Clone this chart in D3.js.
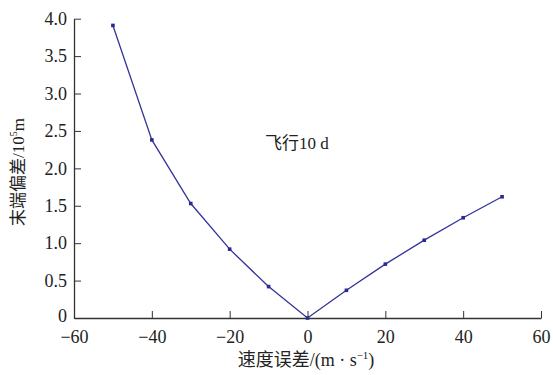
<!DOCTYPE html>
<html>
<head>
<meta charset="utf-8">
<script src="https://cdn.jsdelivr.net/npm/d3@7"></script>
<style>
body { margin: 0; background: #fff; }
text { font-family: "Liberation Serif", "Noto Sans CJK SC", serif; }
</style>
</head>
<body>
<div id="chart"></div>
<script>
var w = 553,
    h = 375;

// velocity error (m/s) and end deviation (10^5 m)
var speedErr = [-50, -40, -30, -20, -10, 0, 10, 20, 30, 40, 50];
var deviation = [3.91, 2.38, 1.53, 0.92, 0.42, 0, 0.37, 0.72, 1.04, 1.34, 1.62];
var xTicks = [-60, -40, -20, 0, 20, 40, 60];
var yTicks = [0, 0.5, 1.0, 1.5, 2.0, 2.5, 3.0, 3.5, 4.0];

var svg = d3.select("#chart")
  .append("svg")
  .attr("width", w)
  .attr("height", h);

var x = d3.scaleLinear().domain([-60, 60]).range([74, 541]);
var y = d3.scaleLinear().domain([0, 4]).range([318, 18.7]);

var axisColor = "#333";

// x axis, ticks point inward (up)
var xAxis = svg.append("g")
  .attr("transform", "translate(0," + y(0) + ")")
  .call(d3.axisBottom(x).tickValues(xTicks).tickSizeInner(-7).tickSizeOuter(0)
    .tickFormat(function(d) { return d < 0 ? "\u2212" + Math.abs(d) : d; }));
xAxis.select(".domain").attr("stroke", axisColor).attr("stroke-width", 1.3);
xAxis.selectAll(".tick line").attr("stroke", axisColor);
xAxis.selectAll(".tick text")
  .attr("y", 12)
  .attr("font-size", "18px")
  .attr("fill", "#222");

// y axis, ticks point inward (right)
var yAxis = svg.append("g")
  .attr("transform", "translate(" + x(-60) + ",0)")
  .call(d3.axisLeft(y).tickValues(yTicks).tickSizeInner(-7).tickSizeOuter(0)
    .tickFormat(function(d) { return d === 0 ? "0" : d3.format(".1f")(d); }));
yAxis.select(".domain").attr("stroke", axisColor).attr("stroke-width", 1.3);
yAxis.selectAll(".tick line").attr("stroke", axisColor);
yAxis.selectAll(".tick text")
  .attr("x", -7)
  .attr("font-size", "18px")
  .attr("fill", "#222");
// nudge the "0" label up a bit so it clears the x tick labels
yAxis.selectAll(".tick text").filter(function(d) { return d === 0; })
  .attr("dy", "0.2em");

// line
var pts = speedErr.map(function(v, i) { return [v, deviation[i]]; });
var line = d3.line()
  .x(function(d) { return x(d[0]); })
  .y(function(d) { return y(d[1]); });

svg.append("path")
  .datum(pts)
  .attr("d", line)
  .attr("fill", "none")
  .attr("stroke", "#33339a")
  .attr("stroke-width", 1.3);

svg.selectAll(".pt")
  .data(pts)
  .enter()
  .append("rect")
  .attr("class", "pt")
  .attr("x", function(d) { return x(d[0]) - 1.8; })
  .attr("y", function(d) { return y(d[1]) - 1.8; })
  .attr("width", 3.6)
  .attr("height", 3.6)
  .attr("fill", "#2a2a90");

// annotation
svg.append("text")
  .attr("x", 265)
  .attr("y", 149)
  .attr("font-size", "17px")
  .attr("fill", "#222")
  .text("飞行10 d");

// axis titles
var xt = svg.append("text")
  .attr("x", 306)
  .attr("y", 366)
  .attr("text-anchor", "middle")
  .attr("font-size", "18px")
  .attr("fill", "#222");
xt.append("tspan").text("速度误差/(m · s");
xt.append("tspan").attr("dy", -7).attr("font-size", "11px").text("−1");
xt.append("tspan").attr("dy", 7).text(")");

var yt = svg.append("text")
  .attr("transform", "translate(24,172) rotate(-90)")
  .attr("text-anchor", "middle")
  .attr("font-size", "17px")
  .attr("fill", "#222");
yt.append("tspan").text("末端偏差/10");
yt.append("tspan").attr("dy", -7).attr("font-size", "10px").text("5");
yt.append("tspan").attr("dy", 7).text("m");
</script>
</body>
</html>
